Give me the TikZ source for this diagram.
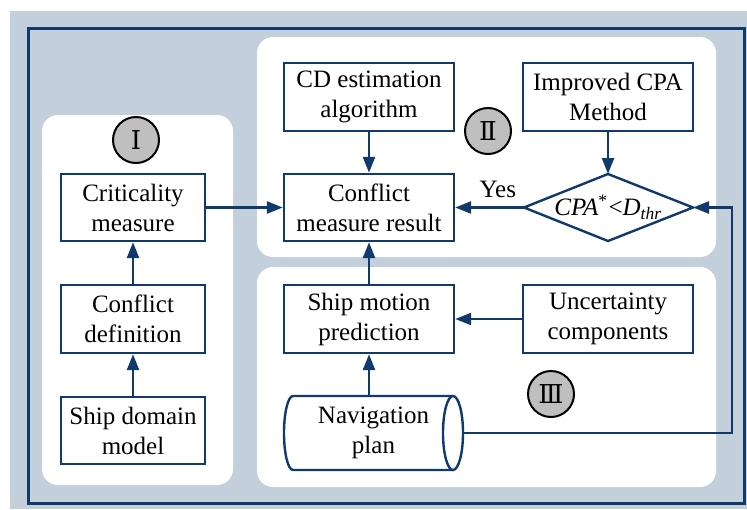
\documentclass[tikz,border=0pt]{standalone}
\usepackage{fontspec}
\setmainfont{Liberation Serif}
\newfontfamily\romfont{DejaVu Serif}
\usetikzlibrary{arrows.meta}
\definecolor{dblue}{RGB}{16,58,108}
\definecolor{bggray}{RGB}{195,207,219}
\definecolor{cgray}{RGB}{191,191,191}
\tikzset{
  box/.style={draw=dblue, line width=2.4pt, fill=white, align=center, inner sep=0pt,
    font=\fontsize{25}{30}\selectfont, text=black},
  panel/.style={fill=white, rounded corners=16pt},
  arr/.style={draw=dblue, line width=2.4pt, -{Triangle[length=16pt,width=12pt]}},
  conn/.style={draw=dblue, line width=2.4pt},
  numc/.style={circle, draw=black, line width=2pt, fill=cgray, minimum size=46pt,
    inner sep=0pt, font=\romfont\fontsize{26}{26}\selectfont},
  lbl/.style={font=\fontsize{25}{30}\selectfont, text=black, inner sep=0pt}
}
\begin{document}
\begin{tikzpicture}[x=1pt,y=-1pt]
\useasboundingbox (0,0) rectangle (747,509);
\fill[bggray] (10,11) rectangle (747,509);
\draw[dblue, line width=3pt] (28,28) rectangle (744,503);
% panels
\fill[panel] (42,115) rectangle (233,485);
\fill[panel] (257,37) rectangle (716,257);
\fill[panel] (257,267) rectangle (716,487);
% panel I
\node[numc] (n1) at (136,140) {Ⅰ};
\node[box, minimum width=144pt, minimum height=67pt] (crit) at (133,207.5) {Criticality\\measure};
\node[box, minimum width=144pt, minimum height=68pt] (cdef) at (133,319) {Conflict\\definition};
\node[box, minimum width=144pt, minimum height=67pt] (sdm) at (133,430.5) {Ship domain\\model};
% panel II
\node[numc] (n2) at (488,131) {Ⅱ};
\node[box, minimum width=170pt, minimum height=68pt] (cd) at (369,97) {CD estimation\\algorithm};
\node[box, minimum width=170pt, minimum height=68pt] (icpa) at (608,97) {Improved CPA\\Method};
\node[box, minimum width=170pt, minimum height=67pt] (cmr) at (369,207.5) {Conflict\\measure result};
\coordinate (dT) at (608,174);
\coordinate (dB) at (608,241);
\coordinate (dL) at (524,207.5);
\coordinate (dR) at (693,207.5);
\filldraw[conn, fill=white] (dL) -- (dT) -- (dR) -- (dB) -- cycle;
\node[lbl, font=\fontsize{25}{30}\selectfont\itshape] (dia) at (608,207.5)
  {CPA\textsuperscript{\upshape *}\kern1pt{\upshape<}D\textsubscript{thr}};
% panel III
\node[numc] (n3) at (551,394) {Ⅲ};
\node[box, minimum width=170pt, minimum height=68pt] (smp) at (369,319) {Ship motion\\prediction};
\node[box, minimum width=170pt, minimum height=68pt] (unc) at (608,319) {Uncertainty\\components};
\node[lbl, minimum width=179pt, minimum height=74pt, align=center] (nav) at (373.5,433) {Navigation\\plan};
\draw[conn] (453,396) -- (293,396) arc[start angle=90, end angle=270, x radius=9pt, y radius=37pt] -- (453,470);
\draw[conn] (453,433) ellipse [x radius=10pt, y radius=37pt];
% connectors
\draw[arr] (sdm) -- (cdef);
\draw[arr] (cdef) -- (crit);
\draw[arr] (crit) -- (cmr);
\draw[arr] (cd) -- (cmr);
\draw[arr] (icpa) -- (dT);
\draw[arr] (dL) -- node[lbl, above=9pt, pos=0.38] (yes) {Yes} (cmr.east);
\draw[arr] (smp) -- (cmr);
\draw[arr] (unc) -- (smp);
\draw[arr] (nav.north -| smp.south) -- (smp.south);
\coordinate (rc) at (732,300);
\draw[arr] (nav.east) -- (nav.east -| rc) -- (rc |- dR) -- (dR);
\end{tikzpicture}
\end{document}
